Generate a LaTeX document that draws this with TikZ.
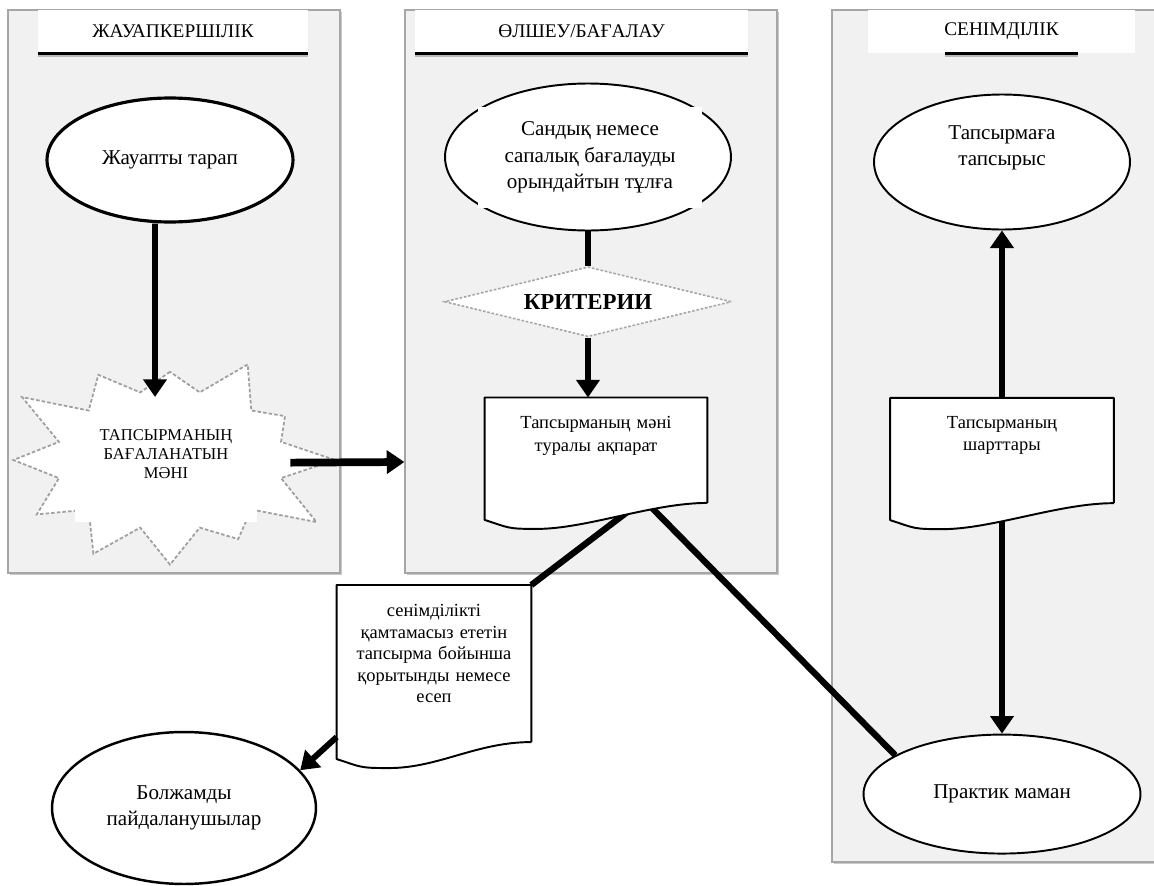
\documentclass[tikz,border=0pt]{standalone}
\usepackage{fontspec}
\setmainfont{Liberation Serif}
\usetikzlibrary{positioning,shapes.geometric,shapes.symbols,arrows.meta,shadows}

\begin{document}
\begin{tikzpicture}[x=0.02cm, y=-0.02cm,
    lane/.style={rectangle, draw=gray!70, line width=0.8pt, fill=gray!11, inner sep=0pt,
      drop shadow={shadow xshift=1pt, shadow yshift=-1pt, fill=gray!70, opacity=0.6}},
    head box/.style={rectangle, fill=white, inner sep=0pt, minimum height=0.86cm,
      font=\fontsize{11}{13}\selectfont},
    head line/.style={line width=1.5pt, preaction={draw=gray!55, line width=1.5pt, transform canvas={yshift=-1.2pt}}},
    main node/.style={ellipse, draw, fill=white, line width=1.1pt, inner sep=0pt, align=center,
      font=\fontsize{12}{15}\selectfont},
    cover box/.style={rectangle, fill=white, inner sep=0pt, align=center},
    doc node/.style={rectangle, fill=white, inner sep=0pt, align=center, anchor=north,
      font=\fontsize{10.5}{12.8}\selectfont},
    doc line/.style={line width=1.1pt, line join=round},
    criteria node/.style={diamond, aspect=4.1, draw=gray!70, dash pattern=on 1.5pt off 1pt,
      line width=0.9pt, fill=white, inner sep=0pt, minimum width=5.74cm, minimum height=1.4cm,
      font=\fontsize{13}{15}\selectfont\bfseries},
    burst node/.style={starburst, starburst points=12, starburst point height=1.15cm,
      random starburst=3, draw=gray!75, dash pattern=on 2pt off 1.2pt, line width=1pt,
      fill=white, minimum width=6.9cm, minimum height=5.1cm, inner sep=0pt},
    big arrow/.style={line width=3.4pt, -{Triangle[length=10pt, width=13pt]}},
    big line/.style={line width=3.6pt}]

  \useasboundingbox (0,0) rectangle (1154,886);

  % lanes and their headers
  \node[lane, minimum width=6.64cm, minimum height=11.26cm] (lane1) at (174,291.5) {};
  \node[lane, minimum width=7.44cm, minimum height=11.26cm] (lane2) at (591,291.5) {};
  \node[lane, minimum width=6.56cm, minimum height=17.04cm] (lane3) at (996,436) {};

  \node[head box, minimum width=5.4cm] (head1) at (173,31.5) {ЖАУАПКЕРШІЛІК};
  \node[head box, minimum width=6.66cm] (head2) at (581.5,31.5) {ӨЛШЕУ/БАҒАЛАУ};
  \node[head box, minimum width=5.34cm] (head3) at (1001.5,31.5) {СЕНІМДІЛІК};
  \draw[head line] (head1.south west) -- (head1.south east);
  \draw[head line] (head2.south west) -- (head2.south east);
  \draw[head line] ([xshift=1.54cm]head3.south west) -- ([xshift=-1.14cm]head3.south east);

  % left lane
  \node[main node, line width=1.8pt, minimum width=4.92cm, minimum height=2.48cm] (resp) at (170,160) {Жауапты тарап};
  \node[burst node] (value) at (170,460) {};
  \node[cover box, anchor=north, text width=3.64cm, text height=15.3pt, text depth=46.5pt,
    font=\fontsize{9.4}{10.8}\selectfont] (value text) at (166,413) {ТАПСЫРМАНЫҢ\\БАҒАЛАНАТЫН\\МӘНІ};

  % middle lane
  \node[main node, minimum width=5.72cm, minimum height=2.94cm] (assessor) at (588,157) {};
  \node[cover box, minimum width=4.48cm, minimum height=2.02cm, font=\fontsize{12}{15}\selectfont]
    (assessor text) at (590,157.5) {Сандық немесе\\сапалық бағалауды\\орындайтын тұлға};
  \node[criteria node] (criteria) [below=0.69cm of assessor] {КРИТЕРИИ};
  \node[doc node, text width=4.44cm, text height=17.6pt, text depth=42pt] (info)
    [below=1.2cm of criteria, xshift=0.16cm] {Тапсырманың мәні\\туралы ақпарат};

  % right lane
  \node[main node, minimum width=5.12cm, minimum height=2.7cm] (order) at (1002,162) {Тапсырмаға\\тапсырыс\\[4pt]};
  \node[doc node, text width=4.46cm, text height=17pt, text depth=42.5pt] (terms)
    [below=3.35cm of order] {Тапсырманың\\шарттары};
  \node[main node, minimum width=5.54cm, minimum height=2.38cm] (practitioner)
    [below=4.61cm of terms] {Практик маман};

  % outside the lanes
  \node[doc node, text width=3.88cm, text height=18pt, text depth=71pt,
    font=\fontsize{10.5}{12.2}\selectfont] (report) at (434,585)
    {сенімділікті\\қамтамасыз ететін\\тапсырма бойынша\\қорытынды немесе\\есеп};
  \node[main node, line width=1.4pt, minimum width=5.28cm, minimum height=3.04cm] (users) at (184,808)
    {Болжамды\\пайдаланушылар};

  \coordinate (lane2 in) at (lane2.west |- 0,462);

  % connectors
  \draw[big arrow] ([xshift=-0.3cm]resp.south) -- ([xshift=-0.22cm, yshift=0.32cm]value text.north);
  \draw[big arrow, line width=4.4pt] ([xshift=0.66cm, yshift=0.1cm]value text.east) -- (lane2 in);
  \draw[line width=3.2pt] (assessor) -- (criteria);
  \draw[big arrow] (criteria.south) -- (criteria.south |- info.north);
  \draw[big line] ([xshift=0.68cm, yshift=-0.14cm]info.south) -- (report.north east);
  \draw[big line] ([xshift=1.12cm, yshift=-0.1cm]info.south) -- (practitioner.160);
  \draw[big arrow] ([yshift=0.1cm]report.south west) -- (users.18);
  \draw[big arrow] (terms.north) -- (terms.north |- order.south);
  \draw[big arrow] ([yshift=-0.26cm]terms.south) -- (terms.south |- practitioner.north);

  % wavy bottoms of the documents
  \foreach \n in {info,terms,report} {
    \fill[white] (\n.south east) -- (\n.south west) -- ([yshift=-0.34cm]\n.south west)
      .. controls +(25,8) and +(-30,0) .. ++(52,9) .. controls +(50,0) and +(-55,0) .. (\n.south east);
    \draw[doc line] (\n.south east) -- (\n.north east) -- (\n.north west) -- ([yshift=-0.34cm]\n.south west)
      .. controls +(25,8) and +(-30,0) .. ++(52,9) .. controls +(50,0) and +(-55,0) .. (\n.south east);
  }
\end{tikzpicture}
\end{document}
